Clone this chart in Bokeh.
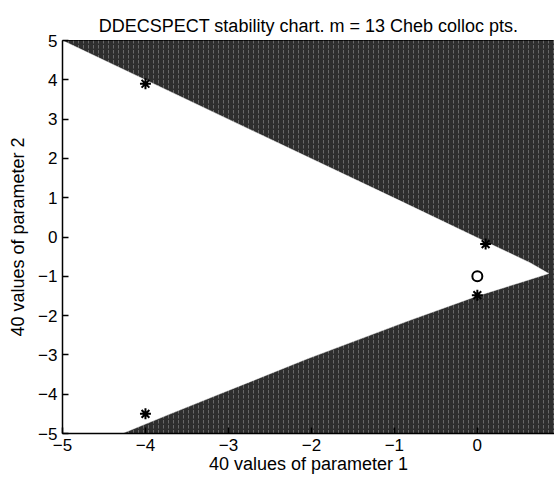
from bokeh.plotting import figure
from bokeh.models import Range1d, FixedTicker
from bokeh.embed import file_html
from bokeh.resources import INLINE

# Stability chart for a delay equation, 40 x 40 parameter grid.
# Boundary of the stable (white) region, traced along parameter 1 / parameter 2.
upper_p1 = [-5.0, -0.93, 0.10, 0.64, 0.86]
upper_p2 = [5.0, 0.92, -0.12, -0.66, -0.93]
lower_p1 = [0.86, 0.50, 0.0, -0.84, -2.05, -3.10, -3.70, -4.28]
lower_p2 = [-0.93, -1.17, -1.50, -2.14, -3.10, -3.99, -4.50, -5.00]

# Eigenvalue-test points
star_p1 = [-4.0, -4.0, 0.10, 0.0]
star_p2 = [3.9, -4.5, -0.18, -1.48]
circle_p1 = [0.0]
circle_p2 = [-1.0]

x_ticks = [-5, -4, -3, -2, -1, 0]
y_ticks = [-5, -4, -3, -2, -1, 0, 1, 2, 3, 4, 5]
x_lo, x_hi = -5.0, 0.93
y_lo, y_hi = -5.0, 5.0

FONT = "Liberation Sans"

p = figure(width=554, height=479, output_backend="svg", toolbar_location=None,
           x_range=Range1d(x_lo, x_hi), y_range=Range1d(y_lo, y_hi),
           min_border_left=62, min_border_right=0, min_border_top=40,
           min_border_bottom=46,
           title="DDECSPECT stability chart. m = 13 Cheb colloc pts.")

p.title.align = "center"
p.title.text_font = FONT
p.title.text_font_size = "18px"
p.title.text_font_style = "normal"
p.title.text_color = "black"
p.title.standoff = 9

p.grid.visible = False
p.outline_line_color = "black"
p.outline_line_width = 1
p.background_fill_color = "white"
p.border_fill_color = "white"

# unstable region: the whole frame shaded, stable wedge drawn on top in white
p.quad(left=[x_lo], right=[x_hi], bottom=[y_lo], top=[y_hi],
       fill_color="#2e2e2e", line_color=None,
       hatch_pattern=":", hatch_color="#909090", hatch_alpha=0.6,
       hatch_scale=5, hatch_weight=1)

wedge_x = upper_p1 + lower_p1[1:] + [x_lo]
wedge_y = upper_p2 + lower_p2[1:] + [y_lo]
p.patch(wedge_x, wedge_y, fill_color="white", line_color="white", line_width=0.5)

p.scatter(star_p1, star_p2, marker="asterisk", size=11, line_color="black",
          line_width=2)
p.scatter(circle_p1, circle_p2, marker="circle", size=10, fill_color=None,
          line_color="black", line_width=2)

minus = "\u2212"
def lab(v):
    return (minus + str(-v)) if v < 0 else str(v)

p.xaxis.ticker = FixedTicker(ticks=x_ticks)
p.yaxis.ticker = FixedTicker(ticks=y_ticks)
p.xaxis.major_label_overrides = {v: lab(v) for v in x_ticks}
p.yaxis.major_label_overrides = {v: lab(v) for v in y_ticks}

p.xaxis.axis_label = "40 values of parameter 1"
p.yaxis.axis_label = "40 values of parameter 2"

for ax in (p.xaxis, p.yaxis):
    ax.axis_line_color = "black"
    ax.axis_line_width = 1.5
    ax.major_tick_in = 6
    ax.major_tick_out = 0
    ax.major_tick_line_color = "black"
    ax.major_tick_line_width = 1.5
    ax.minor_tick_line_color = None
    ax.major_label_text_font = FONT
    ax.major_label_text_font_size = "17px"
    ax.major_label_text_color = "black"
    ax.axis_label_text_font = FONT
    ax.axis_label_text_font_size = "18px"
    ax.axis_label_text_font_style = "normal"
    ax.axis_label_text_color = "black"

p.xaxis.major_label_standoff = 5
p.xaxis.axis_label_standoff = 0
p.yaxis.major_label_standoff = 5
p.yaxis.axis_label_standoff = 7

open("out.html", "w").write(file_html(p, INLINE))
